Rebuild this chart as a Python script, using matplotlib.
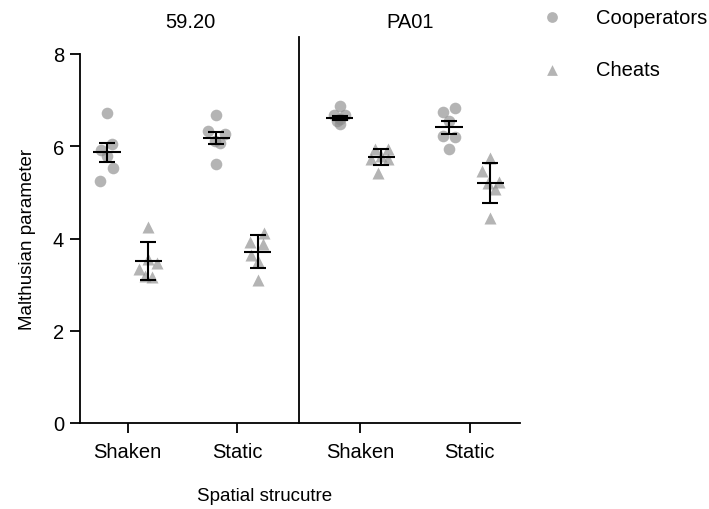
import numpy as np
import matplotlib.pyplot as plt

plt.rcParams['font.family'] = ['Liberation Sans', 'DejaVu Sans']

strains = ['59.20', 'PA01']
conditions = ['Shaken', 'Static', 'Shaken', 'Static']

# Malthusian parameter, six replicates per group
coop = [
    [6.72, 6.05, 5.92, 5.78, 5.52, 5.25],
    [6.68, 6.32, 6.27, 6.12, 6.08, 5.62],
    [6.88, 6.68, 6.68, 6.60, 6.55, 6.48],
    [6.74, 6.84, 6.55, 6.23, 6.19, 5.93],
]
cheat = [
    [4.24, 3.47, 3.34, 3.19, 3.17, 3.55],
    [4.12, 3.93, 3.88, 3.64, 3.52, 3.09],
    [5.94, 5.94, 5.72, 5.72, 5.43, 5.78],
    [5.74, 5.47, 5.20, 5.22, 5.07, 4.44],
]
coop_mean = [5.87, 6.17, 6.61, 6.41]
coop_sem = [0.21, 0.13, 0.05, 0.14]
cheat_mean = [3.51, 3.71, 5.77, 5.20]
cheat_sem = [0.41, 0.36, 0.18, 0.44]

# horizontal scatter of the replicates
coop_jit = [
    [0, 0.05, -0.05, 0, 0.06, -0.06],
    [0, -0.077, 0.085, -0.015, 0.037, 0],
    [0, -0.05, 0.05, 0, -0.02, 0],
    [-0.055, 0.052, 0, -0.055, 0.052, 0],
]
cheat_jit = [
    [0, 0.077, -0.082, -0.03, 0.03, 0],
    [0.06, -0.07, 0.052, -0.06, 0, 0],
    [-0.06, 0.06, -0.09, 0.06, -0.03, 0],
    [0, -0.076, -0.025, 0.076, 0.037, 0],
]

pos = np.array([0, 1, 2.13, 3.13])
off = 0.19
grey = '#8c8c8c'

fig = plt.figure(figsize=(7.09, 5.10), dpi=100)
ax = fig.add_axes([80/709, 86/510, 440/709, 369/510])

for i in range(4):
    xc = pos[i] - off
    xt = pos[i] + off
    ax.scatter(xc + np.array(coop_jit[i]), coop[i], s=70, marker='o',
               color=grey, alpha=0.65, linewidths=0, zorder=2)
    ax.scatter(xt + np.array(cheat_jit[i]), cheat[i], s=75, marker='^',
               color=grey, alpha=0.65, linewidths=0, zorder=2)
    for x, m, e in [(xc, coop_mean[i], coop_sem[i]), (xt, cheat_mean[i], cheat_sem[i])]:
        ax.errorbar(x, m, yerr=e, fmt='none', ecolor='black', elinewidth=1.5,
                    capsize=5.5, capthick=1.5, zorder=3)
        ax.hlines(m, x - 0.125, x + 0.125, color='black', lw=1.5, zorder=3)

ax.set_xlim(-0.436, 3.59)
ax.set_ylim(0, 8)
ax.set_yticks([0, 2, 4, 6, 8])
ax.set_xticks(pos)
ax.set_xticklabels(conditions)
ax.axvline(1.567, ymin=0, ymax=1.046, color='black', lw=1.3, clip_on=False)

for s in ['top', 'right']:
    ax.spines[s].set_visible(False)
for s in ['left', 'bottom']:
    ax.spines[s].set_linewidth(1.3)
ax.tick_params(axis='both', length=7.5, width=1.3, labelsize=14.5, pad=4)
ax.tick_params(axis='x', pad=6)

ax.set_ylabel('Malthusian parameter', fontsize=13.5, labelpad=12)
fig.text(265/709, 1 - 497/510, 'Spatial strucutre', ha='center', va='center', fontsize=13.5)
fig.text(190/709, 1 - 22/510, strains[0], ha='center', va='center', fontsize=14.5)
fig.text(410/709, 1 - 22/510, strains[1], ha='center', va='center', fontsize=14.5)

# legend
ax.scatter([551.7/709], [1 - 18/510], s=60, marker='o', color=grey, alpha=0.65,
           linewidths=0, transform=fig.transFigure, clip_on=False)
ax.scatter([551.7/709], [1 - 71/510], s=60, marker='^', color=grey, alpha=0.65,
           linewidths=0, transform=fig.transFigure, clip_on=False)
fig.text(596/709, 1 - 18/510, 'Cooperators', va='center', fontsize=14.5)
fig.text(596/709, 1 - 71/510, 'Cheats', va='center', fontsize=14.5)

fig.savefig('out.png', dpi=100)
